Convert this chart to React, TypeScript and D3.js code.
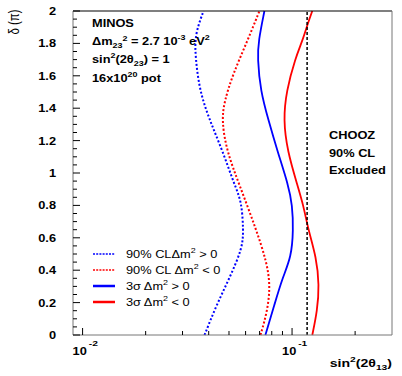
import React from "react";
import * as d3 from "d3";

// delta (in units of pi) and sin^2(2theta13)
const deltaBlueDot = [0, 0.185, 0.352, 0.537, 0.648, 0.827, 0.926, 1.136, 1.327, 1.506, 1.71, 1.852, 2.0];
const s13BlueDot = [0.0382, 0.0436, 0.0503, 0.058, 0.0586, 0.0574, 0.0531, 0.0466, 0.0404, 0.0362, 0.0346, 0.0343, 0.0378];

const deltaRedDot = [0, 0.148, 0.309, 0.457, 0.648, 0.926, 1.136, 1.327, 1.444, 1.605, 1.815, 2.0];
const s13RedDot = [0.0707, 0.0763, 0.0788, 0.0754, 0.0676, 0.0561, 0.0487, 0.0461, 0.0476, 0.052, 0.0612, 0.0699];

const deltaBlue = [0, 0.185, 0.352, 0.481, 0.648, 0.802, 0.926, 1.136, 1.327, 1.506, 1.71, 1.815, 2.0];
const s13Blue = [0.0746, 0.0823, 0.0899, 0.0992, 0.1014, 0.1003, 0.096, 0.0851, 0.0771, 0.0707, 0.0684, 0.0691, 0.0738];

const deltaRed = [0, 0.148, 0.309, 0.481, 0.648, 0.802, 0.926, 1.136, 1.327, 1.506, 1.71, 1.815, 1.914, 2.0];
const s13Red = [0.1249, 0.1319, 0.1349, 0.1305, 0.1196, 0.1132, 0.106, 0.095, 0.0909, 0.0939, 0.1037, 0.112, 0.1183, 0.1249];

const choozLimit = 0.118;

const yTicks = [0, 0.2, 0.4, 0.6, 0.8, 1, 1.2, 1.4, 1.6, 1.8, 2];
const xMajor = [0.01, 0.1];

const series = [
  { label: "90% CL\u0394m", sign: " >  0", color: "#0000ff", dash: "2,2", d: deltaBlueDot, v: s13BlueDot },
  { label: "90% CL \u0394m", sign: " <  0", color: "#ff0000", dash: "2,2", d: deltaRedDot, v: s13RedDot },
  { label: "3\u03c3 \u0394m", sign: " >  0", color: "#0000ff", dash: null, d: deltaBlue, v: s13Blue },
  { label: "3\u03c3 \u0394m", sign: " <  0", color: "#ff0000", dash: null, d: deltaRed, v: s13Red },
];

const W = 402;
const H = 376;
const margin = { top: 11, right: 10, bottom: 41, left: 73 };
const font = "'Liberation Sans', Arial, Helvetica, sans-serif";
const SX = 1.28; // the original figure is a little stretched sideways

// text stretched horizontally like the source image
function T({ x, y, anchor = "start", size = 10, bold = true, children }: any) {
  return (
    <text
      transform={`translate(${x},${y}) scale(${SX},1)`}
      textAnchor={anchor}
      fontSize={size}
      fontWeight={bold ? "bold" : "normal"}
      fill="#000"
    >
      {children}
    </text>
  );
}

export default function App() {
  const x = d3.scaleLog().domain([0.009, 0.3]).range([margin.left, W - margin.right]);
  const y = d3.scaleLinear().domain([0, 2]).range([H - margin.bottom, margin.top]);
  const [x0, x1] = x.range();
  const [yb, yt] = y.range();

  const line = d3
    .line<[number, number]>()
    .x((p) => x(p[1]))
    .y((p) => y(p[0]))
    .curve(d3.curveBasis);

  const yMinor = d3.range(0, 2.0001, 0.05).filter((t) => Math.abs(t * 5 - Math.round(t * 5)) > 1e-6);
  const xMinor: number[] = [];
  [0.001, 0.01, 0.1].forEach((dec) => {
    for (let k = 2; k <= 9; k++) {
      const t = dec * k;
      if (t > 0.0091 && t < 0.299) xMinor.push(t);
    }
  });

  const axisColor = "#777";
  const legendX = 93;
  const legendY0 = 254;

  return (
    <svg width={W} height={H} style={{ position: "absolute", left: 0, top: 0, background: "#fff" }} fontFamily={font}>
      <rect x={0} y={0} width={W} height={H} fill="#fff" />

      {/* curves */}
      {series.map((s, i) => (
        <path
          key={i}
          d={line(s.d.map((d, j) => [d, s.v[j]] as [number, number])) || ""}
          fill="none"
          stroke={s.color}
          strokeWidth={s.dash ? 2 : 1.8}
          strokeDasharray={s.dash || undefined}
        />
      ))}

      {/* CHOOZ limit */}
      <line x1={x(choozLimit)} x2={x(choozLimit)} y1={yb} y2={yt} stroke="#000" strokeWidth={1.5} strokeDasharray="3,2" />

      {/* frame */}
      <line x1={x0} x2={x1} y1={yt} y2={yt} stroke="#000" strokeWidth={1.2} />
      <line x1={x1} x2={x1} y1={yt} y2={yb} stroke={axisColor} strokeWidth={1} />
      <line x1={x0} x2={x0} y1={yt} y2={yb} stroke={axisColor} strokeWidth={1} />
      <line x1={x0} x2={x1} y1={yb} y2={yb} stroke={axisColor} strokeWidth={1} />

      {/* y ticks */}
      {yTicks.map((t) => (
        <g key={"y" + t}>
          <line x1={x0} x2={x0 + 7} y1={y(t)} y2={y(t)} stroke="#000" strokeWidth={1} />
          <T x={56} y={y(t) + 4} anchor="end" size={10}>
            {d3.format("~g")(t)}
          </T>
        </g>
      ))}
      {yMinor.map((t) => (
        <line key={"ym" + t} x1={x0} x2={x0 + 4} y1={y(t)} y2={y(t)} stroke="#000" strokeWidth={1} />
      ))}

      {/* x ticks */}
      {xMajor.map((t) => (
        <line key={"x" + t} x1={x(t)} x2={x(t)} y1={yb} y2={yb - 7} stroke="#000" strokeWidth={1} />
      ))}
      {xMinor.map((t) => (
        <line key={"xm" + t} x1={x(t)} x2={x(t)} y1={yb} y2={yb - 4} stroke="#000" strokeWidth={1} />
      ))}
      {xMajor.map((t) => (
        <T key={"xl" + t} x={x(t) - 10} y={355} size={10}>
          10
          <tspan dx={1.5} dy={-9} fontSize={8}>
            {Math.round(Math.log10(t))}
          </tspan>
        </T>
      ))}

      {/* axis titles */}
      <T x={W - 10} y={367} anchor="end" size={11}>
        sin<tspan dy={-5} fontSize={8}>2</tspan>
        <tspan dy={5}>{"(2\u03b8"}</tspan>
        <tspan dy={3} fontSize={8}>13</tspan>
        <tspan dy={-3}>)</tspan>
      </T>
      <text transform="translate(19,22) rotate(-90) scale(1,1.25)" textAnchor="middle" fontSize={11.5} fill="#000">
        {"\u03b4 (\u03c0)"}
      </text>

      {/* MINOS annotation */}
      <T x={92} y={27}>MINOS</T>
      <T x={92} y={45}>
        {"\u0394m"}
        <tspan dy={3} fontSize={7}>23</tspan>
        <tspan dy={-7} fontSize={7}>2</tspan>
        <tspan dy={4}>{" = 2.7 10"}</tspan>
        <tspan dy={-5} fontSize={7}>-3</tspan>
        <tspan dy={5}>{" eV"}</tspan>
        <tspan dy={-5} fontSize={7}>2</tspan>
      </T>
      <T x={92} y={63}>
        sin<tspan dy={-5} fontSize={7}>2</tspan>
        <tspan dy={5}>{"(2\u03b8"}</tspan>
        <tspan dy={3} fontSize={7}>23</tspan>
        <tspan dy={-3}>{") = 1"}</tspan>
      </T>
      <T x={92} y={82}>
        16x10<tspan dy={-5} fontSize={7}>20</tspan>
        <tspan dy={5}>{" pot"}</tspan>
      </T>

      {/* CHOOZ annotation */}
      <T x={329} y={139}>CHOOZ</T>
      <T x={329} y={157}>90% CL</T>
      <T x={329} y={174}>Excluded</T>

      {/* legend */}
      {series.map((s, i) => {
        const ly = legendY0 + i * 16;
        return (
          <g key={"lg" + i}>
            <line
              x1={legendX}
              x2={legendX + 22}
              y1={ly}
              y2={ly}
              stroke={s.color}
              strokeWidth={s.dash ? 1.5 : 2.5}
              strokeDasharray={s.dash ? "2,1.2" : undefined}
            />
            <T x={126} y={ly + 4} size={10} bold={false}>
              {s.label}
              <tspan dy={-5} fontSize={7}>2</tspan>
              <tspan dy={5}>{s.sign}</tspan>
            </T>
          </g>
        );
      })}
    </svg>
  );
}
